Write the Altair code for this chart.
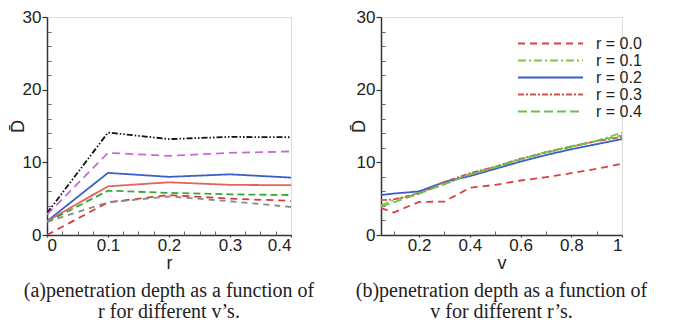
import altair as alt
import pandas as pd

# ---- panel (a): D-bar against r, one curve per v ----
r_vals = [0.0, 0.1, 0.2, 0.3, 0.4]
a_keys = ["a1", "a2", "a3", "a4", "a5", "a6", "a7"]
a_values = {
    "a1": [3.0, 14.1, 13.2, 13.5, 13.45],
    "a2": [2.8, 11.3, 10.9, 11.3, 11.5],
    "a3": [1.9, 8.55, 8.0, 8.35, 7.9],
    "a4": [1.9, 6.7, 7.25, 6.9, 6.85],
    "a5": [1.8, 6.1, 5.8, 5.6, 5.5],
    "a6": [0.0, 4.5, 5.5, 5.0, 4.7],
    "a7": [1.8, 4.5, 5.3, 4.65, 3.85],
}
a_colors = ["#111111", "#c66bd0", "#3b5fc8", "#e8625c", "#3aa53a", "#d43c3c", "#8a8a8a"]
a_dashes = [[6, 2, 1.5, 2, 1.5, 2], [8, 5], [1, 0], [1, 0], [7, 4], [7, 5], [6, 5]]
a_widths = [2.0, 2.0, 2.0, 1.5, 3.0, 1.8, 1.6]

# ---- panel (b): D-bar against v, one curve per r ----
v_vals = [0.05, 0.1, 0.2, 0.3, 0.4, 0.5, 0.6, 0.7, 0.8, 0.9, 1.0]
b_keys = ["r = 0.0", "r = 0.1", "r = 0.2", "r = 0.3", "r = 0.4"]
b_values = {
    "r = 0.0": [3.7, 3.1, 4.55, 4.6, 6.5, 6.9, 7.5, 7.95, 8.5, 9.1, 9.8],
    "r = 0.1": [4.1, 4.8, 5.8, 7.0, 8.4, 9.4, 10.4, 11.3, 12.1, 12.95, 14.1],
    "r = 0.2": [5.5, 5.7, 6.0, 7.3, 8.1, 9.1, 10.1, 11.0, 11.8, 12.5, 13.2],
    "r = 0.3": [4.8, 4.9, 5.7, 7.3, 8.5, 9.4, 10.5, 11.4, 12.2, 12.9, 13.5],
    "r = 0.4": [3.9, 4.5, 5.7, 7.0, 8.3, 9.3, 10.4, 11.4, 12.2, 12.95, 13.7],
}
b_colors = ["#d9423f", "#7cc84a", "#3b5fc9", "#d9534f", "#6cc04a"]
b_dashes = [[7, 5], [8, 3, 2, 3], [1, 0], [6, 2, 2, 2], [9, 4]]

y_major = [0, 10, 20, 30]
y_minor = [2, 4, 6, 8, 12, 14, 16, 18, 22, 24, 26, 28]
ra_major = [0.0, 0.1, 0.2, 0.3, 0.4]
ra_minor = [0.025, 0.05, 0.075, 0.125, 0.15, 0.175, 0.225, 0.25, 0.275, 0.325, 0.35, 0.375]
vb_major = [0.2, 0.4, 0.6, 0.8, 1.0]
vb_minor = [0.1, 0.3, 0.5, 0.7, 0.9]

caption_a = ["(a)penetration depth as a function of", "r for different v\u2019s."]
caption_b = ["(b)penetration depth as a function of", "v for different r\u2019s."]

df_a = pd.DataFrame(
    [{"r": r, "D": d, "s": k} for k in a_keys for r, d in zip(r_vals, a_values[k])]
)
df_b = pd.DataFrame(
    [{"v": v, "D": d, "s": k} for k in b_keys for v, d in zip(v_vals, b_values[k])]
)

W_A, W_B, H = 244, 241, 218
SANS = "Liberation Sans"
SERIF = "Liberation Serif"
DARK = "#333333"


def major_axis(values, title, orient, title_x=None):
    kw = dict(
        orient=orient,
        values=values,
        format="~r",
        title=title,
        grid=False,
        domainColor=DARK,
        domainWidth=1.5,
        tickColor=DARK,
        tickWidth=1.2,
        labelFont=SANS,
        labelFontSize=17,
        labelColor="#222222",
        titleFont=SANS,
        titleFontSize=18,
        titleFontWeight="normal",
        titleColor="#222222",
        labelOverlap=False,
    )
    if orient == "left":
        kw.update(tickSize=5, labelPadding=1, titleX=title_x, titleAngle=-90,
                  titleBaseline="middle")
    else:
        kw.update(tickSize=2, labelPadding=0, titleY=33, titleBaseline="alphabetic")
    return alt.Axis(**kw)


def minor_axis(values, orient):
    # small inward ticks, drawn as a second axis shifted into the plot
    return alt.Axis(
        orient=orient,
        values=values,
        labels=False,
        title=None,
        domain=False,
        grid=False,
        tickSize=4,
        offset=-4,
        tickColor="#666666",
        tickWidth=1,
    )


def panel(df, xfield, xdomain, xmajor, xminor, xtitle, keys, colors, dashes,
          widths, width, title_x, caption, legend):
    xs = alt.Scale(domain=xdomain, nice=False, zero=False)
    ys = alt.Scale(domain=[0, 30], nice=False)

    color_kw = dict(scale=alt.Scale(domain=keys, range=colors), title=None)
    dash_kw = dict(scale=alt.Scale(domain=keys, range=dashes), title=None)
    if legend:
        leg = alt.Legend(
            orient="none",
            legendX=136,
            legendY=18,
            symbolType="M-1,0H7.67",
            symbolSize=225,
            symbolStrokeWidth=1.8,
            labelOffset=62,
            labelFont=SANS,
            labelFontSize=16,
            labelColor="#222222",
            rowPadding=0,
            padding=0,
        )
        color_kw["legend"] = leg
        dash_kw["legend"] = leg
    else:
        color_kw["legend"] = None
        dash_kw["legend"] = None

    enc = dict(
        x=alt.X(f"{xfield}:Q", scale=xs, axis=major_axis(xmajor, xtitle, "bottom")),
        y=alt.Y("D:Q", scale=ys, axis=major_axis(y_major, "D\u0304", "left", title_x)),
        color=alt.Color("s:N", sort=keys, **color_kw),
        strokeDash=alt.StrokeDash("s:N", sort=keys, **dash_kw),
    )
    if widths is not None:
        enc["strokeWidth"] = alt.StrokeWidth(
            "s:N", scale=alt.Scale(domain=keys, range=widths), legend=None
        )
    lines = alt.Chart(df).mark_line(strokeWidth=1.8, clip=True).encode(**enc)

    minor = alt.Chart(df).mark_line(opacity=0).encode(
        x=alt.X(f"{xfield}:Q", scale=xs, axis=minor_axis(xminor, "bottom")),
        y=alt.Y("D:Q", scale=ys, axis=minor_axis(y_minor, "left")),
    )

    # the curves' layer comes first so that its axes keep the titles
    return (
        alt.layer(lines, minor)
        .resolve_axis(x="independent", y="independent")
        .properties(
            width=width,
            height=H,
            title=alt.TitleParams(
                text=caption,
                orient="bottom",
                anchor="middle",
                font=SERIF,
                fontSize=20,
                fontWeight="normal",
                color="#222222",
                lineHeight=21,
                offset=9,
            ),
        )
    )


left = panel(df_a, "r", [0, 0.4], ra_major, ra_minor, "r", a_keys, a_colors,
             a_dashes, a_widths, W_A, -29, caption_a, legend=False)
right = panel(df_b, "v", [0.05, 1.0], vb_major, vb_minor, "v", b_keys, b_colors,
              b_dashes, None, W_B, -22, caption_b, legend=True)

chart = (
    alt.hconcat(left, right, spacing=34)
    .resolve_scale(color="independent", strokeDash="independent", x="independent")
    .properties(padding={"left": 8, "top": 7, "right": 5, "bottom": 0})
    .configure_view(stroke=None)
    .configure(background="white")
)

chart.save("out.html", embed_options={"renderer": "svg", "actions": False})
